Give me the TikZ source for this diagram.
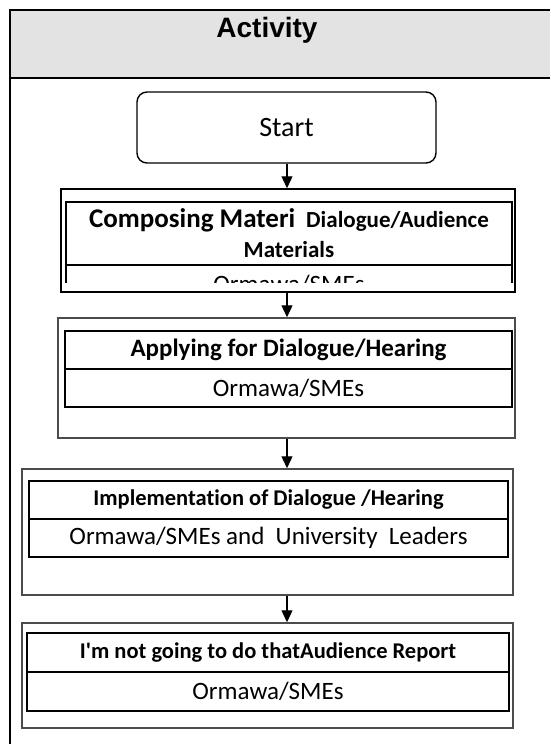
\documentclass[tikz,border=0pt]{standalone}
\usepackage{fontspec}
\setmainfont{Carlito}[Ligatures={TeXOff,NoCommon}]
\newfontfamily\headfont{Liberation Sans}
\usetikzlibrary{arrows.meta}

\begin{document}
\begin{tikzpicture}[x=1pt,y=-1pt,
  >={Triangle[length=12pt,width=11pt]},
  startbox/.style={draw,rounded corners=10pt,line width=1.4pt,inner sep=0pt,
    minimum width=299pt,minimum height=71pt,font=\fontsize{28}{32}\selectfont},
  outerbox/.style={draw=black!70,line width=1.5pt,inner sep=0pt},
  cellbox/.style={draw,line width=1.6pt,inner sep=0pt,align=center},
  titletext/.style={font=\bfseries\fontsize{22.5}{26}\selectfont},
  actortext/.style={font=\fontsize{25}{28}\selectfont},
  flow/.style={->,line width=1.3pt}]

\useasboundingbox (0,0) rectangle (550,744);

% Axis of the arrows
\coordinate (axis) at (287,0);

% Lane header
\fill[black!11] (9.5,9.5) rectangle (550,78);
\draw[line width=2pt] (550,9.5) -- (9.5,9.5) -- (9.5,744);
\draw[line width=2pt] (9.5,78) -- (550,78);
\node[font=\headfont\bfseries\fontsize{28}{32}\selectfont] (head) at (267,30) {Activity};

% Start
\node[startbox] (start) at (286.5,127.5) {Start};

% Step 1 (cut off at the bottom)
\node[outerbox,draw=black,minimum width=454pt,minimum height=103pt] (b1) at (288,240.5) {};
\node[cellbox,minimum width=446pt,minimum height=63pt,
  font=\bfseries\fontsize{23}{30}\selectfont] (t1) at (289,233.5)
  {{\fontsize{27}{30}\selectfont Composing Materi}\hspace{11pt}Dialogue/Audience\\Materials};
\begin{scope}
  \clip (50,265) rectangle (530,282);
  \node[cellbox,actortext,minimum width=446pt,minimum height=38pt] (a1) at (289,284) {Ormawa/SMEs};
\end{scope}

% Step 2
\node[outerbox,minimum width=457pt,minimum height=120pt] (b2) at (286.5,378) {};
\node[cellbox,titletext,font=\bfseries\fontsize{25}{28}\selectfont,minimum width=447pt,minimum height=38pt] (t2) at (288.5,350) {Applying for Dialogue/Hearing};
\node[cellbox,actortext,minimum width=447pt,minimum height=38pt] (a2) at (288.5,388) {Ormawa/SMEs};

% Step 3
\node[outerbox,minimum width=491pt,minimum height=126pt] (b3) at (267.5,532) {};
\node[cellbox,titletext,minimum width=479pt,minimum height=38pt] (t3) at (268.5,500) {Implementation of Dialogue /Hearing};
\node[cellbox,actortext,minimum width=479pt,minimum height=38pt] (a3) at (268.5,538) {Ormawa/SMEs and\ \ University\ \ Leaders};

% Step 4
\node[outerbox,minimum width=491pt,minimum height=105pt] (b4) at (267.5,675.5) {};
\node[cellbox,titletext,minimum width=482pt,minimum height=39pt] (t4) at (268,652.5) {I'm not going to do thatAudience Report};
\node[cellbox,actortext,minimum width=482pt,minimum height=39pt] (a4) at (268,691.5) {Ormawa/SMEs};

% Arrows
\draw[flow] (axis |- start.south) -- (axis |- b1.north);
\draw[flow] (axis |- b1.south) -- (axis |- b2.north);
\draw[flow] (axis |- b2.south) -- (axis |- b3.north);
\draw[flow] (axis |- b3.south) -- (axis |- b4.north);

\end{tikzpicture}
\end{document}
